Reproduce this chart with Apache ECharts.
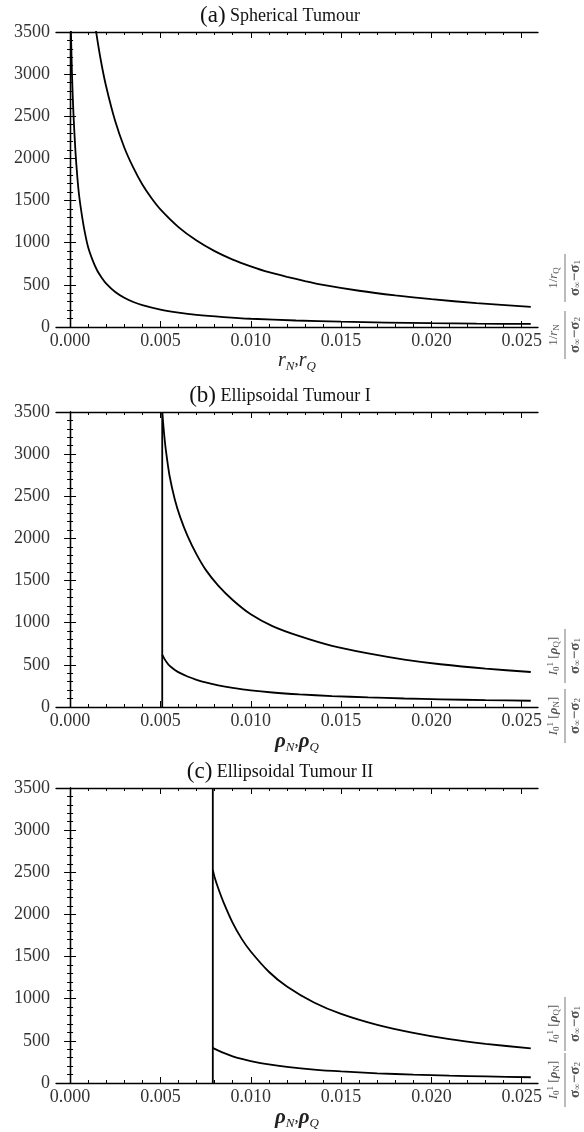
<!DOCTYPE html>
<html>
<head>
<meta charset="utf-8">
<script src="https://cdn.jsdelivr.net/npm/echarts@6/dist/echarts.min.js"></script>
<style>
  html, body { margin: 0; padding: 0; background: #fff; }
  #chart { width: 584px; height: 1132px; }
</style>
</head>
<body>
<div id="chart"></div>
<script>
'use strict';

// ── Data ──────────────────────────────────────────────────────────────────────
const xMajor = [0, 0.005, 0.010, 0.015, 0.020, 0.025];
const xMinor = [0.001, 0.002, 0.003, 0.004, 0.006, 0.007, 0.008, 0.009, 0.011, 0.012,
                0.013, 0.014, 0.016, 0.017, 0.018, 0.019, 0.021, 0.022, 0.023, 0.024];
const panelTitles = [['(a)', 'Spherical Tumour'], ['(b)', 'Ellipsoidal Tumour I'], ['(c)', 'Ellipsoidal Tumour II']];

// (a) spherical: 1/rQ/(σ∞−σ1) upper, 1/rN/(σ∞−σ2) lower
const aQ = [[0.0012, 3880], [0.0014, 3560], [0.0017, 3165], [0.002, 2850], [0.0025, 2440], [0.003, 2130],
            [0.0035, 1890], [0.004, 1690], [0.0045, 1530], [0.005, 1395], [0.006, 1185], [0.007, 1025],
            [0.008, 900], [0.009, 800], [0.010, 720], [0.011, 650], [0.012, 595], [0.013, 545], [0.014, 500],
            [0.016, 430], [0.018, 375], [0.020, 330], [0.0225, 283], [0.0255, 239]];
const aN = [[0, 3900], [0.00005, 3470], [0.0001, 3030], [0.00015, 2720], [0.0002, 2465], [0.0003, 2070],
            [0.0004, 1780], [0.0005, 1560], [0.00065, 1330], [0.0008, 1140], [0.001, 945], [0.00125, 790],
            [0.0015, 670], [0.00175, 585], [0.002, 515], [0.0025, 415], [0.003, 347], [0.0035, 297],
            [0.004, 259], [0.005, 206], [0.006, 170], [0.007, 144], [0.0085, 118], [0.010, 98], [0.0125, 77],
            [0.015, 63], [0.0175, 53], [0.020, 46], [0.0225, 40], [0.0255, 36]];

// (b) ellipsoidal I
const bWall = [[0.0051, 0], [0.0051, 3500]];
const bQ = [[0.0051, 3500], [0.0052, 3250], [0.0053, 3050], [0.0055, 2750], [0.0058, 2460], [0.0061, 2250],
            [0.0065, 2030], [0.0070, 1810], [0.0075, 1630], [0.0082, 1440], [0.0090, 1270], [0.010, 1100],
            [0.0112, 960], [0.0127, 840], [0.0145, 725], [0.0165, 635], [0.0185, 562], [0.0205, 507],
            [0.023, 455], [0.0255, 415]];
const bN = [[0.0051, 620], [0.0052, 580], [0.0053, 545], [0.0055, 490], [0.0058, 440], [0.0061, 402],
            [0.0065, 362], [0.0070, 323], [0.0075, 291], [0.0082, 257], [0.0090, 227], [0.010, 197],
            [0.0112, 172], [0.0127, 150], [0.0145, 130], [0.0165, 114], [0.0185, 101], [0.0205, 91],
            [0.023, 81], [0.0255, 74]];

// (c) ellipsoidal II
const cWall = [[0.0079, 0], [0.0079, 3500]];
const cQ = [[0.0079, 2530], [0.0080, 2440], [0.0082, 2310], [0.0085, 2140], [0.009, 1900], [0.0095, 1710],
            [0.010, 1560], [0.011, 1320], [0.012, 1145], [0.0135, 955], [0.015, 820], [0.017, 690],
            [0.019, 595], [0.021, 520], [0.023, 465], [0.0255, 410]];
const cN = [[0.0079, 420], [0.0080, 405], [0.0082, 385], [0.0085, 357], [0.009, 317], [0.0095, 286],
            [0.010, 260], [0.011, 220], [0.012, 191], [0.0135, 159], [0.015, 137], [0.017, 115],
            [0.019, 99], [0.021, 87], [0.023, 78], [0.0255, 68]];

// ── Layout ────────────────────────────────────────────────────────────────────
const FONT   = 'Liberation Serif';
const X_MIN  = -0.00078;
const X_MAX  = 0.0259;
const TOPS   = [32, 412, 788];
const GH     = 295;
const LEFT   = 56;
const GW     = 482;

const nameRich = {
  i:  { fontFamily: FONT, fontStyle: 'italic', fontSize: 20, color: '#222', lineHeight: 24 },
  bi: { fontFamily: FONT, fontStyle: 'italic', fontWeight: 'bold', fontSize: 21, color: '#222', lineHeight: 24 },
  s:  { fontFamily: FONT, fontStyle: 'italic', fontSize: 13, color: '#222', lineHeight: 24, verticalAlign: 'bottom' },
  c:  { fontFamily: FONT, fontSize: 17, color: '#222', lineHeight: 24 },
};
const axisNames = ['{i|r}{s|N}{c|,}{i|r}{s|Q}', '{bi|ρ}{s|N}{c|,}{bi|ρ}{s|Q}', '{bi|ρ}{s|N}{c|,}{bi|ρ}{s|Q}'];

const blackLine = { color: '#000', width: 1.3 };

function xAxesFor(g) {
  const base = {
    gridIndex: g, type: 'value', min: X_MIN, max: X_MAX,
    splitLine: { show: false },
    axisLine:  { show: true, lineStyle: blackLine },
    axisLabel: { show: false },
  };
  const major = { inside: true, length: 6, customValues: xMajor, lineStyle: { color: '#000', width: 1 } };
  const minor = { inside: true, length: 3, customValues: xMinor, lineStyle: { color: '#000', width: 1 } };
  return [
    { ...base, position: 'bottom', axisTick: major,
      axisLabel: { show: true, customValues: xMajor, formatter: v => v.toFixed(3), margin: 5,
                   fontFamily: FONT, fontSize: 18, color: '#333' },
      name: axisNames[g], nameLocation: 'middle', nameGap: g === 0 ? 20 : 23,
      nameTextStyle: { rich: nameRich } },
    { ...base, position: 'bottom', axisLine: { show: false }, axisTick: minor },
    { ...base, position: 'top', axisTick: major },
    { ...base, position: 'top', axisLine: { show: false }, axisTick: minor },
  ];
}

function yAxesFor(g) {
  const base = {
    gridIndex: g, type: 'value', min: 0, max: 3500, interval: 500,
    splitLine: { show: false },
    axisLine:  { show: true, lineStyle: blackLine },
    axisTick:  { inside: true, length: 6, lineStyle: { color: '#000', width: 1 } },
    minorTick: { show: true, splitNumber: 5, length: 3, lineStyle: { color: '#000', width: 1 } },
  };
  return [
    { ...base, position: 'left',
      axisLabel: { formatter: v => String(v), margin: 6, fontFamily: FONT, fontSize: 18, color: '#333' } },
    { ...base, position: 'right', axisLabel: { show: false } },
  ];
}

function curve(g, data, smooth) {
  return {
    type: 'line', xAxisIndex: 4 * g, yAxisIndex: 2 * g, data,
    showSymbol: false, silent: true, animation: false,
    smooth: smooth ? 0.25 : false,
    lineStyle: { color: '#000', width: 1.8 },
  };
}

// ── Right-hand rotated fraction labels ────────────────────────────────────────
const fracRich = {
  n:   { fontFamily: FONT, fontSize: 13, fill: '#555' },
  i:   { fontFamily: FONT, fontStyle: 'italic', fontSize: 13, fill: '#555' },
  bi:  { fontFamily: FONT, fontStyle: 'italic', fontWeight: 'bold', fontSize: 13, fill: '#555' },
  b:   { fontFamily: FONT, fontWeight: 'bold', fontSize: 15, fill: '#555' },
  s:   { fontFamily: FONT, fontSize: 9, fill: '#555', verticalAlign: 'bottom', lineHeight: 15 },
  sup: { fontFamily: FONT, fontSize: 9, fill: '#555', verticalAlign: 'top', lineHeight: 15 },
};
function fraction(cy, num, den, half) {
  const txt = (y, t) => ({
    type: 'text', x: 0, y, silent: true,
    style: { text: t, rich: fracRich, fill: '#555', align: 'center', verticalAlign: 'middle',
             textAlign: 'center', textVerticalAlign: 'middle' },
  });
  return {
    type: 'group', x: 565, y: cy, rotation: Math.PI / 2, silent: true,
    children: [
      txt(-11, num),
      { type: 'line', shape: { x1: -half, y1: 0, x2: half, y2: 0 }, style: { stroke: '#777', lineWidth: 1 } },
      txt(10, den),
    ],
  };
}
const numA = ['{n|1/}{i|r}{s|Q}', '{n|1/}{i|r}{s|N}'];
const numB = ['{i|I}{s|0}{sup|1}{n| [}{bi|ρ}{s|Q}{n|]}', '{i|I}{s|0}{sup|1}{n| [}{bi|ρ}{s|N}{n|]}'];
const den  = ['{b|σ}{s|∞}{b|−σ}{s|1}', '{b|σ}{s|∞}{b|−σ}{s|2}'];
const fracCenters = [[278, 335], [656, 716], [1024, 1080]];

// ── Build option ──────────────────────────────────────────────────────────────
const grids = [], xAxes = [], yAxes = [], graphics = [];
TOPS.forEach((top, g) => {
  grids.push({ left: LEFT, top, width: GW, height: GH });
  xAxes.push(...xAxesFor(g));
  yAxes.push(...yAxesFor(g));
  graphics.push({
    type: 'text', x: 280, y: top - 16, silent: true,
    style: {
      text: `{p|${panelTitles[g][0]}}{t| ${panelTitles[g][1]}}`,
      rich: { p: { fontFamily: FONT, fontSize: 23, fill: '#111' }, t: { fontFamily: FONT, fontSize: 18, fill: '#111' } },
      align: 'center', verticalAlign: 'middle', textAlign: 'center', textVerticalAlign: 'middle',
    },
  });
  const nums = g === 0 ? numA : numB;
  const half = g === 0 ? 24 : 27;
  graphics.push(fraction(fracCenters[g][0], nums[0], den[0], half));
  graphics.push(fraction(fracCenters[g][1], nums[1], den[1], half));
});

const series = [
  curve(0, aQ, true), curve(0, aN, true),
  curve(1, bWall, false), curve(1, bQ, true), curve(1, bN, true),
  curve(2, cWall, false), curve(2, cQ, true), curve(2, cN, true),
];

const chart = echarts.init(document.getElementById('chart'), null, { renderer: 'canvas' });
chart.setOption({
  backgroundColor: '#fff',
  animation: false,
  grid: grids,
  xAxis: xAxes,
  yAxis: yAxes,
  series,
  graphic: graphics,
});
</script>
</body>
</html>
